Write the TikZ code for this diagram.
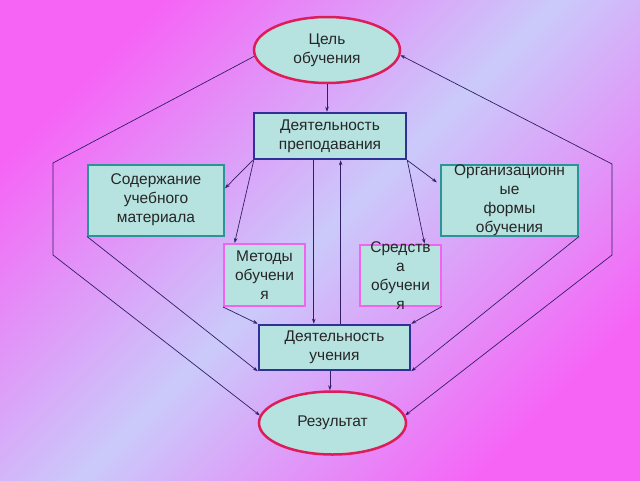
\documentclass[tikz,border=0pt]{standalone}
\usepackage{fontspec}
\setmainfont{Liberation Sans}
\usetikzlibrary{shapes.geometric,arrows.meta,calc}
\definecolor{bgmag}{RGB}{246,100,246}
\definecolor{bglav}{RGB}{202,202,250}
\definecolor{boxfill}{RGB}{182,226,224}
\definecolor{ellline}{RGB}{222,28,90}
\definecolor{navyline}{RGB}{48,48,150}
\definecolor{tealline}{RGB}{40,150,150}
\definecolor{pinkline}{RGB}{240,100,240}
\definecolor{connc}{RGB}{50,30,100}
\tikzset{
  txt/.style={font=\fontsize{15.5}{19}\selectfont, align=center, text=black!85, inner sep=0pt},
  ell/.style={ellipse, draw=ellline, line width=2.5pt, fill=boxfill, inner sep=0pt, txt},
  mainbox/.style={rectangle, draw=navyline, line width=2.5pt, fill=boxfill, inner sep=0pt, txt},
  sidebox/.style={rectangle, draw=tealline, line width=2pt, fill=boxfill, inner sep=0pt},
  smallbox/.style={rectangle, draw=pinkline, line width=2pt, fill=boxfill, inner sep=0pt},
  arr/.style={draw=connc, line width=0.7pt, -{Stealth[length=5pt,width=3.5pt]}},
  darr/.style={draw=connc, line width=0.7pt, {Stealth[length=5pt,width=3.5pt]}-{Stealth[length=5pt,width=3.5pt]}}
}
\begin{document}
\begin{tikzpicture}[x=1pt,y=-1pt]
\useasboundingbox (0,0) rectangle (640,480);
\shade[top color=bgmag, bottom color=bgmag, middle color=bglav, shading angle=45] (0,0) rectangle (640,480);

\node[ell, minimum width=146pt, minimum height=66pt] (goal) at (327,50) {Цель\\обучения};
\node[mainbox, minimum width=152pt, minimum height=46pt] (teach) at (330,136) {Деятельность\\преподавания};
\node[sidebox, minimum width=136pt, minimum height=71pt] (cont) at (156,200) {};
\node[txt] (contt) at (cont) {Содержание\\учебного\\материала};
\node[sidebox, minimum width=137pt, minimum height=71pt] (org) at (509.5,200) {};
\node[txt] (orgt) at (org) {Организационн\\ые\\формы\\обучения};
\node[smallbox, minimum width=81pt, minimum height=62pt] (meth) at (264.5,275) {};
\node[txt] (metht) at (meth) {Методы\\обучени\\я};
\node[smallbox, minimum width=81pt, minimum height=61pt] (means) at (400.5,275) {};
\node[txt] (meanst) at ([yshift=-1pt]means.center) {Средств\\а\\обучени\\я};
\node[mainbox, minimum width=151pt, minimum height=45pt] (learn) at (334.5,347.5) {Деятельность\\учения};
\node[ell, minimum width=147pt, minimum height=63pt] (res) at (332.5,423) {Результат};

% outer loops
\coordinate (l1) at (53,163);
\coordinate (l2) at (53,255);
\coordinate (r1) at (612,164);
\coordinate (r2) at (612,255);
\draw[arr] (goal.185) -- (l1) -- (l2) -- (res.174);
\draw[darr] (goal.356) -- (r1) -- (r2) -- (res.6);

% vertical main
\draw[arr] (goal.south) -- (goal.south |- teach.north);
\coordinate (ls) at ($(learn.south west)!0.47!(learn.south east)$);
\draw[arr] (ls) -- (ls |- res.north);

% from teaching
\draw[arr] (teach.south west) -- ($(cont.north east)!0.34!(cont.south east)$);
\draw[arr] ([xshift=1pt]teach.south west) -- ($(meth.north west)!0.14!(meth.north east)$);
\coordinate (td) at ($(teach.south west)!0.395!(teach.south east)$);
\draw[arr] (td) -- (td |- learn.north);
\coordinate (lu) at ($(learn.north west)!0.54!(learn.north east)$);
\draw[arr] (lu) -- (lu |- teach.south);
\draw[arr, shorten >=4pt] (teach.south east) -- ($(org.north west)!0.29!(org.south west)$);
\draw[arr] (teach.south east) -- ($(means.north west)!0.79!(means.north east)$);

% to learning
\draw[arr] (cont.south west) -- (learn.south west);
\draw[arr] (org.south east) -- (learn.south east);
\draw[arr] (meth.south west) -- (learn.north west);
\draw[arr] (means.south east) -- (learn.north east);
\end{tikzpicture}
\end{document}
